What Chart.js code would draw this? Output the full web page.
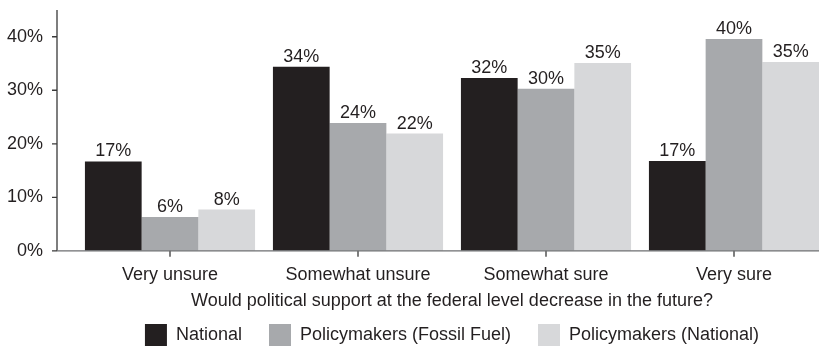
<!DOCTYPE html>
<html>
<head>
<meta charset="utf-8">
<script src="https://cdn.jsdelivr.net/npm/chart.js@4/dist/chart.umd.min.js"></script>
<style>
  html, body { margin: 0; padding: 0; background: #fff; overflow: hidden; }
  #wrap { width: 828px; height: 356px; }
</style>
</head>
<body>
<div id="wrap"><canvas id="chart"></canvas></div>
<script>
const categories = ['Very unsure', 'Somewhat unsure', 'Somewhat sure', 'Very sure'];
const national = [16.7, 34.4, 32.3, 16.8];
const fossilFuel = [6.3, 23.9, 30.3, 39.6];
const policyNational = [7.7, 21.9, 35.1, 35.3];
const seriesNames = ['National', 'Policymakers (Fossil Fuel)', 'Policymakers (National)'];
const yTicks = [0, 10, 20, 30, 40];

const ink = '#231f20';
const family = '"Liberation Sans", Arial, Helvetica, sans-serif';
const font = { family: family, size: 18 };

// value labels on top of each bar
const barLabels = {
  id: 'barLabels',
  afterDatasetsDraw(chart) {
    const ctx = chart.ctx;
    ctx.save();
    ctx.font = font.size + 'px ' + font.family;
    ctx.fillStyle = ink;
    ctx.textAlign = 'center';
    ctx.textBaseline = 'bottom';
    chart.data.datasets.forEach((ds, i) => {
      chart.getDatasetMeta(i).data.forEach((bar, j) => {
        ctx.fillText(Math.round(ds.data[j]) + '%', bar.x, bar.y - 1);
      });
    });
    ctx.restore();
  }
};

// axis lines and tick marks, y axis sits a bit left of the bars
const axes = {
  id: 'axes',
  afterDraw(chart) {
    const { ctx, chartArea, scales } = chart;
    const ax = chartArea.left - 19;
    ctx.save();
    ctx.strokeStyle = '#3a3a3a';
    ctx.lineWidth = 1.3;
    ctx.beginPath();
    ctx.moveTo(ax, chartArea.top);
    ctx.lineTo(ax, chartArea.bottom);
    yTicks.forEach(v => {
      const y = scales.y.getPixelForValue(v);
      ctx.moveTo(ax - 5, y);
      ctx.lineTo(ax, y);
    });
    categories.forEach((c, i) => {
      const x = scales.x.getPixelForValue(i);
      ctx.moveTo(x, chartArea.bottom);
      ctx.lineTo(x, chartArea.bottom + 6);
    });
    ctx.stroke();
    ctx.strokeStyle = '#6d6e71';
    ctx.beginPath();
    ctx.moveTo(ax, chartArea.bottom);
    ctx.lineTo(chartArea.right, chartArea.bottom);
    ctx.stroke();
    ctx.restore();
  }
};

new Chart(document.getElementById('chart'), {
  type: 'bar',
  data: {
    labels: categories,
    datasets: [
      { label: seriesNames[0], data: national, backgroundColor: '#231f20' },
      { label: seriesNames[1], data: fossilFuel, backgroundColor: '#a7a9ac' },
      { label: seriesNames[2], data: policyNational, backgroundColor: '#d7d8da' }
    ]
  },
  options: {
    responsive: true,
    maintainAspectRatio: false,
    animation: false,
    layout: { padding: { top: 10, right: 0, left: 0, bottom: 0 } },
    datasets: { bar: { categoryPercentage: 0.905, barPercentage: 1 } },
    scales: {
      x: {
        grid: { display: false, drawTicks: false },
        border: { display: false },
        ticks: { color: ink, font: font, padding: 13 },
        title: {
          display: true,
          text: 'Would political support at the federal level decrease in the future?',
          color: ink,
          font: font,
          padding: { top: -8, bottom: -15 }
        }
      },
      y: {
        min: 0,
        max: 45,
        grid: { display: false, drawTicks: false },
        border: { display: false },
        afterBuildTicks: s => { s.ticks = yTicks.map(v => ({ value: v })); },
        afterFit: s => { s.width = 76; s.paddingTop = 0; s.paddingBottom = 0; },
        ticks: { color: ink, font: font, padding: 33, callback: v => v + '%' }
      }
    },
    plugins: {
      legend: {
        position: 'bottom',
        fullSize: false,
        labels: { color: ink, font: font, boxWidth: 22, boxHeight: 22, padding: 27 }
      },
      tooltip: { enabled: false }
    }
  },
  plugins: [barLabels, axes]
});
</script>
</body>
</html>
